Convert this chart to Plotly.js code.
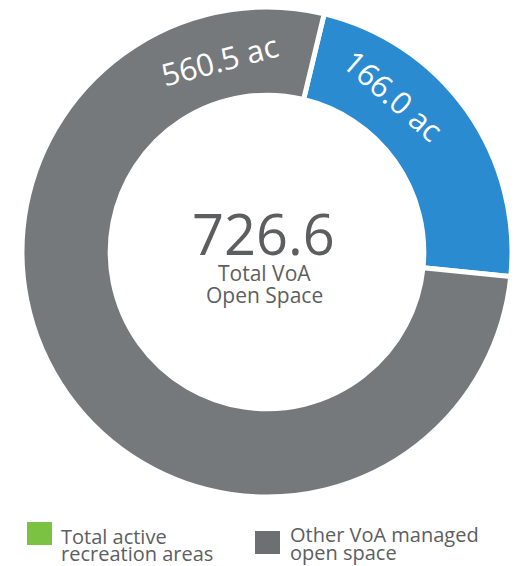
<!DOCTYPE html>
<html>
<head>
<meta charset="utf-8">
<script src="https://cdn.plot.ly/plotly-3.0.1.min.js"></script>
<style>html,body{margin:0;padding:0;background:#fff;}#chart{width:521px;height:566px;}</style>
</head>
<body>
<div id="chart"></div>
<script>
// Data
var sliceNames = ["Total active recreation areas", "Other VoA managed open space"];
var sliceValues = [166.0, 560.5];
var sliceColors = ["#2a8bd0", "#76797c"];
var legendNames = ["Total active recreation areas", "Other VoA managed open space"];
var legendLines = [["Total active", "recreation areas"], ["Other VoA managed", "open space"]];
var legendColors = ["#7cc242", "#6d6f72"];
var totalValue = 726.6;
var centerLines = ["Total VoA", "Open Space"];
var unit = " ac";

var W = 521, H = 566;
function px(x){ return x / W; }
function py(y){ return 1 - y / H; }

var FONT = "Open Sans, Noto Sans, sans-serif";
var TEXTC = "#5d5e60";

var trace = {
  type: "pie",
  labels: sliceNames,
  values: sliceValues,
  sort: false,
  direction: "clockwise",
  rotation: 13.5,
  hole: 0.64,
  textinfo: "none",
  hoverinfo: "label+value",
  marker: { colors: sliceColors, line: { color: "#ffffff", width: 5 } },
  domain: { x: [px(22), px(512)], y: [py(497), py(7)] },
  showlegend: false
};

var annotations = [
  { x: px(219), y: py(60), text: sliceValues[1].toFixed(1) + unit, textangle: -15,
    font: { family: FONT, size: 31, color: "#ffffff" } },
  { x: px(393), y: py(95), text: sliceValues[0].toFixed(1) + unit, textangle: 41,
    font: { family: FONT, size: 31, color: "#ffffff" } },
  { x: px(263), y: py(233), text: totalValue.toFixed(1),
    font: { family: FONT, size: 56, color: TEXTC } },
  { x: px(264), y: py(273), text: centerLines[0],
    font: { family: FONT, size: 21, color: TEXTC } },
  { x: px(264), y: py(295), text: centerLines[1],
    font: { family: FONT, size: 21, color: TEXTC } },
  // legend text
  { x: px(60), y: py(536), xanchor: "left", text: legendLines[0][0],
    font: { family: FONT, size: 20, color: TEXTC } },
  { x: px(60), y: py(553), xanchor: "left", text: legendLines[0][1],
    font: { family: FONT, size: 20, color: TEXTC } },
  { x: px(289), y: py(534), xanchor: "left", text: legendLines[1][0],
    font: { family: FONT, size: 20, color: TEXTC } },
  { x: px(289), y: py(552), xanchor: "left", text: legendLines[1][1],
    font: { family: FONT, size: 20, color: TEXTC } }
];
annotations.forEach(function(a){
  a.xref = "paper"; a.yref = "paper"; a.showarrow = false;
  a.borderpad = 0;
  if (!a.xanchor) a.xanchor = "center";
  a.yanchor = "middle";
});

var shapes = [
  { type: "rect", xref: "paper", yref: "paper", x0: px(27), x1: px(52), y0: py(545), y1: py(522),
    fillcolor: legendColors[0], line: { width: 0 } },
  { type: "rect", xref: "paper", yref: "paper", x0: px(255), x1: px(280), y0: py(554), y1: py(531),
    fillcolor: legendColors[1], line: { width: 0 } }
];

var layout = {
  width: W, height: H,
  margin: { l: 0, r: 0, t: 0, b: 0 },
  paper_bgcolor: "#ffffff",
  plot_bgcolor: "#ffffff",
  annotations: annotations,
  shapes: shapes,
  showlegend: false
};

Plotly.newPlot("chart", [trace], layout, { displayModeBar: false, staticPlot: true });
</script>
</body>
</html>
